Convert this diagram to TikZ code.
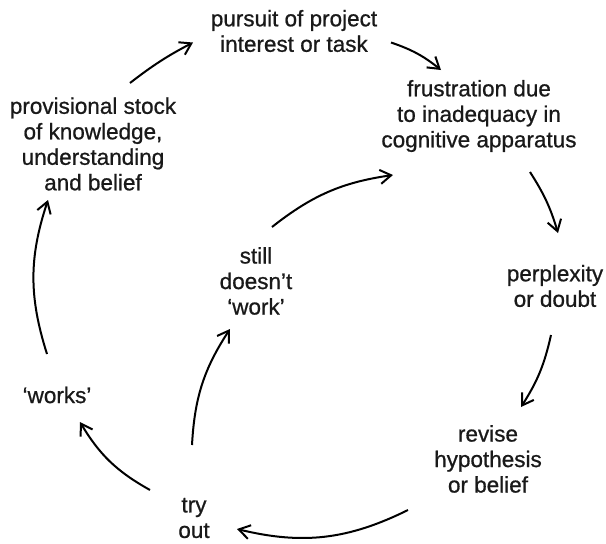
\documentclass[tikz,border=0pt]{standalone}
\usepackage{fontspec}
\setmainfont[FakeBold=0.8]{Liberation Sans}
\usetikzlibrary{arrows.meta,calc}
\begin{document}
\begin{tikzpicture}[x=1pt,y=-1pt,
  lbl/.style={align=center,inner sep=0pt,text=black!90,font=\fontsize{22.5}{25.5}\selectfont},
  arr/.style={line width=2pt,-{Straight Barb[length=11pt,width=14pt,line width=2pt]}}]
\useasboundingbox (0,0) rectangle (606,544);
% stages of the cycle
\node[lbl] (P) at (294,31) {pursuit of project\\interest or task};
\node[lbl] (F) at (479,116) {frustration due\\to inadequacy in\\cognitive apparatus};
\node[lbl] (Q) at (555,286) {perplexity\\or doubt};
\node[lbl] (R) at (488,459) {revise\\hypothesis\\or belief};
\node[lbl] (T) at (194,518) {try\\out};
\node[lbl] (W) at (57,395) {‘works’};
\node[lbl] (S) at (256,281) {still\\doesn’t\\‘work’};
\node[lbl] (K) at (93,144) {provisional stock\\of knowledge,\\understanding\\and belief};
% outer cycle
\draw[arr] ($(K)+(37,-61)$) to[bend left=5] ($(P)+(-101,11.5)$);
\draw[arr] ($(P)+(97,11.5)$) to[bend left=10] ($(F)+(-38,-46)$);
\draw[arr] ($(F)+(51,56)$) to[bend left=8] ($(Q)+(3,-53)$);
\draw[arr] ($(Q)+(-4,49)$) to[bend left=10] ($(R)+(33,-52)$);
\draw[arr] ($(R)+(-80,51)$) to[bend left=20] ($(T)+(43,11)$);
\draw[arr] ($(T)+(-44,-28)$) to[bend left=15] ($(W)+(23,27)$);
\draw[arr] ($(W)+(-10,-41)$) to[bend left=18] ($(K)+(-45,56)$);
% inner loop
\draw[arr] ($(T)+(-2,-73)$) to[bend left=15] ($(S)+(-26,48)$);
\draw[arr] ($(S)+(16,-54)$) to[bend left=15] ($(F)+(-86,59)$);
\end{tikzpicture}
\end{document}
